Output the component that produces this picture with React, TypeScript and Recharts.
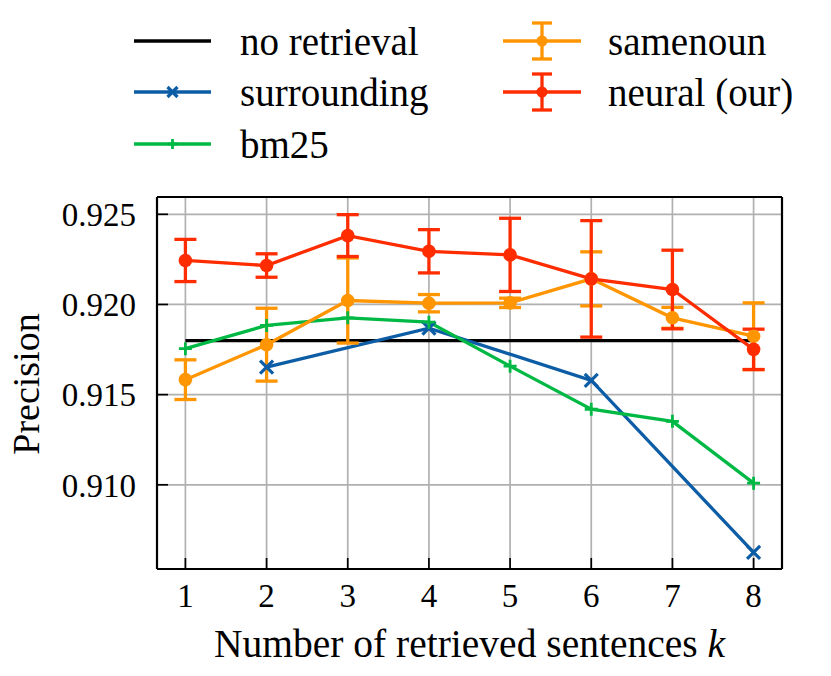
import React from "react";
import {
  LineChart,
  Line,
  XAxis,
  YAxis,
  CartesianGrid,
  ErrorBar,
  Legend,
  Label,
} from "recharts";

// number of retrieved sentences
const kValues = [1, 2, 3, 4, 5, 6, 7, 8];

const noRetrieval = [0.918, 0.918, 0.918, 0.918, 0.918, 0.918, 0.918, 0.918];
const surrounding = [null, 0.91653, null, 0.91869, null, 0.91579, null, 0.90625];
const bm25 = [0.91755, 0.91884, 0.91926, 0.91902, 0.91658, 0.91419, 0.91352, 0.91009];
const samenoun = [0.91583, 0.91777, 0.92022, 0.92007, 0.92009, 0.92142, 0.91926, 0.91824];
const samenounErr = [0.0011, 0.00202, 0.00236, 0.00048, 0.00026, 0.0015, 0.00058, 0.00185];
const neural = [0.92244, 0.92216, 0.92382, 0.92295, 0.92275, 0.92142, 0.92083, 0.91751];
const neuralErr = [0.00117, 0.00065, 0.00116, 0.0012, 0.00203, 0.00323, 0.00218, 0.00112];

const xMajorTicks = [1, 2, 3, 4, 5, 6, 7, 8];
const xMinorTicks = [
  0.8, 1.2, 1.4, 1.6, 1.8, 2.2, 2.4, 2.6, 2.8, 3.2, 3.4, 3.6, 3.8, 4.2, 4.4,
  4.6, 4.8, 5.2, 5.4, 5.6, 5.8, 6.2, 6.4, 6.6, 6.8, 7.2, 7.4, 7.6, 7.8, 8.2,
];
const yMajorTicks = [0.91, 0.915, 0.92, 0.925];
const yMinorTicks = [
  0.906, 0.907, 0.908, 0.909, 0.911, 0.912, 0.913, 0.914, 0.916, 0.917, 0.918,
  0.919, 0.921, 0.922, 0.923, 0.924,
];

const BLACK = "#000000";
const BLUE = "#0C5DA5";
const GREEN = "#00B945";
const ORANGE = "#FF9500";
const RED = "#FF2C00";

const FONT = "Liberation Serif, DejaVu Serif, serif";
const LW = 3.3;

const xDomain = [0.65, 8.35];
const yDomain = [0.90533, 0.92596];

const data = kValues.map((k, i) => ({
  k,
  noRetrieval: noRetrieval[i],
  surrounding: surrounding[i],
  bm25: bm25[i],
  samenoun: samenoun[i],
  samenounErr: samenounErr[i],
  neural: neural[i],
  neuralErr: neuralErr[i],
}));

type Marker = "none" | "x" | "plus" | "circle";

function drawMarker(kind: Marker, cx: number, cy: number, color: string, key?: string, s = 6.5) {
  if (kind === "x") {
    return (
      <path
        key={key}
        d={`M${cx - s},${cy - s}L${cx + s},${cy + s}M${cx - s},${cy + s}L${cx + s},${cy - s}`}
        stroke={color}
        strokeWidth={3.2}
        fill="none"
      />
    );
  }
  if (kind === "plus") {
    return (
      <path
        key={key}
        d={`M${cx - s},${cy}L${cx + s},${cy}M${cx},${cy - s}L${cx},${cy + s}`}
        stroke={color}
        strokeWidth={2.8}
        fill="none"
      />
    );
  }
  if (kind === "circle") {
    return <circle key={key} cx={cx} cy={cy} r={s} fill={color} stroke="none" />;
  }
  return <g key={key} />;
}

const makeDot = (kind: Marker, color: string) => (props: any) => {
  const { cx, cy, index, value } = props;
  const key = `dot-${kind}-${index}`;
  if (value == null || cx == null || cy == null) return <g key={key} />;
  return drawMarker(kind, cx, cy, color, key, kind === "circle" ? 6.8 : 6.5);
};

const legendItems = [
  { name: "no retrieval", color: BLACK, marker: "none" as Marker, err: false, col: 0, row: 0 },
  { name: "surrounding", color: BLUE, marker: "x" as Marker, err: false, col: 0, row: 1 },
  { name: "bm25", color: GREEN, marker: "plus" as Marker, err: false, col: 0, row: 2 },
  { name: "samenoun", color: ORANGE, marker: "circle" as Marker, err: true, col: 1, row: 0 },
  { name: "neural (our)", color: RED, marker: "circle" as Marker, err: true, col: 1, row: 1 },
];

function LegendBox() {
  const cols = [
    { x0: 134, x1: 211, tx: 240 },
    { x0: 503, x1: 581, tx: 608 },
  ];
  const rows = [41, 92, 144];
  return (
    <svg width={831} height={175} style={{ display: "block" }}>
      {legendItems.map((it) => {
        const c = cols[it.col];
        const y = rows[it.row];
        const mid = (c.x0 + c.x1) / 2;
        return (
          <g key={it.name}>
            <line x1={c.x0} y1={y} x2={c.x1} y2={y} stroke={it.color} strokeWidth={LW} />
            {it.err && (
              <g stroke={it.color} strokeWidth={LW}>
                <line x1={mid} y1={y - 18} x2={mid} y2={y + 18} />
                <line x1={mid - 10} y1={y - 18} x2={mid + 10} y2={y - 18} />
                <line x1={mid - 10} y1={y + 18} x2={mid + 10} y2={y + 18} />
              </g>
            )}
            {drawMarker(it.marker, mid, y, it.color, undefined, it.marker === "circle" ? 5.5 : 5)}
            <text x={c.tx} y={y + 14} style={{ fontFamily: FONT, fontSize: 39 }} fill="#000">
              {it.name}
            </text>
          </g>
        );
      })}
    </svg>
  );
}

const tickFont = { fontFamily: FONT, fontSize: 33, fill: "#000" };
const majorTickLine = { stroke: "#000", strokeWidth: 1.7 };
const frameLine = { stroke: "#000", strokeWidth: 2.2 };

export default function App() {
  return (
    <div
      style={{
        position: "absolute",
        left: 0,
        top: 0,
        width: 831,
        height: 676,
        background: "#fff",
        fontFamily: FONT,
      }}
    >
      <LineChart
        width={831}
        height={676}
        data={data}
        margin={{ top: 195, right: 47, bottom: 105, left: 155 }}
      >
        <CartesianGrid xAxisId="x" yAxisId="y" stroke="#b0b0b0" strokeWidth={1.7} />

        <XAxis
          xAxisId="x"
          dataKey="k"
          type="number"
          domain={xDomain}
          allowDataOverflow
          ticks={xMajorTicks}
          orientation="bottom"
          height={1}
          tickSize={-11}
          tickMargin={26}
          tickLine={majorTickLine}
          axisLine={frameLine}
          tick={tickFont}
          interval={0}
        >
          <Label
            content={(props: any) => {
              const vb = props.viewBox || { x: 157, y: 569, width: 625 };
              return (
                <text
                  x={vb.x + vb.width / 2}
                  y={569 + 88}
                  textAnchor="middle"
                  style={{ fontFamily: FONT, fontSize: 39.5 }}
                  fill="#000"
                >
                  Number of retrieved sentences <tspan fontStyle="italic">k</tspan>
                </text>
              );
            }}
          />
        </XAxis>
        <XAxis
          xAxisId="xMinor"
          dataKey="k"
          type="number"
          domain={xDomain}
          allowDataOverflow
          ticks={xMinorTicks}
          orientation="bottom"
          height={1}
          tickSize={-6}
          tickLine={majorTickLine}
          axisLine={false}
          tick={false}
          interval={0}
        />
        <XAxis
          xAxisId="xTop"
          dataKey="k"
          type="number"
          domain={xDomain}
          allowDataOverflow
          ticks={xMajorTicks}
          orientation="top"
          height={1}
          tickSize={-11}
          tickLine={majorTickLine}
          axisLine={frameLine}
          tick={false}
          interval={0}
        />
        <XAxis
          xAxisId="xTopMinor"
          dataKey="k"
          type="number"
          domain={xDomain}
          allowDataOverflow
          ticks={xMinorTicks}
          orientation="top"
          height={1}
          tickSize={-6}
          tickLine={majorTickLine}
          axisLine={false}
          tick={false}
          interval={0}
        />

        <YAxis
          yAxisId="y"
          type="number"
          domain={yDomain}
          allowDataOverflow
          ticks={yMajorTicks}
          orientation="left"
          width={1}
          tickSize={-11}
          tickMargin={32}
          tickLine={majorTickLine}
          axisLine={frameLine}
          tick={tickFont}
          tickFormatter={(v: number) => v.toFixed(3)}
          interval={0}
        >
          <Label
            content={(props: any) => {
              const vb = props.viewBox || { x: 157, y: 197, height: 372 };
              const cx = 39;
              const cy = vb.y + vb.height / 2 + 1;
              return (
                <text
                  transform={`translate(${cx}, ${cy}) rotate(-90)`}
                  textAnchor="middle"
                  style={{ fontFamily: FONT, fontSize: 38 }}
                  fill="#000"
                >
                  Precision
                </text>
              );
            }}
          />
        </YAxis>
        <YAxis
          yAxisId="yMinor"
          type="number"
          domain={yDomain}
          allowDataOverflow
          ticks={yMinorTicks}
          orientation="left"
          width={1}
          tickSize={-6}
          tickLine={majorTickLine}
          axisLine={false}
          tick={false}
          interval={0}
        />
        <YAxis
          yAxisId="yRight"
          type="number"
          domain={yDomain}
          allowDataOverflow
          ticks={yMajorTicks}
          orientation="right"
          width={1}
          tickSize={-11}
          tickLine={majorTickLine}
          axisLine={frameLine}
          tick={false}
          interval={0}
        />
        <YAxis
          yAxisId="yRightMinor"
          type="number"
          domain={yDomain}
          allowDataOverflow
          ticks={yMinorTicks}
          orientation="right"
          width={1}
          tickSize={-6}
          tickLine={majorTickLine}
          axisLine={false}
          tick={false}
          interval={0}
        />

        <Legend
          layout="horizontal"
          verticalAlign="middle"
          align="center"
          wrapperStyle={{ top: 0, left: 0, width: 831, height: 175 }}
          content={() => <LegendBox />}
        />

        <Line
          xAxisId="x"
          yAxisId="y"
          dataKey="noRetrieval"
          name="no retrieval"
          stroke={BLACK}
          strokeWidth={LW}
          dot={false}
          activeDot={false}
          isAnimationActive={false}
        />
        <Line
          xAxisId="x"
          yAxisId="y"
          dataKey="surrounding"
          name="surrounding"
          stroke={BLUE}
          strokeWidth={LW}
          dot={makeDot("x", BLUE)}
          activeDot={false}
          connectNulls
          isAnimationActive={false}
        />
        <Line
          xAxisId="x"
          yAxisId="y"
          dataKey="bm25"
          name="bm25"
          stroke={GREEN}
          strokeWidth={LW}
          dot={makeDot("plus", GREEN)}
          activeDot={false}
          isAnimationActive={false}
        />
        <Line
          xAxisId="x"
          yAxisId="y"
          dataKey="samenoun"
          name="samenoun"
          stroke={ORANGE}
          strokeWidth={LW}
          dot={makeDot("circle", ORANGE)}
          activeDot={false}
          isAnimationActive={false}
        >
          <ErrorBar
            dataKey="samenounErr"
            direction="y"
            width={11}
            stroke={ORANGE}
            strokeWidth={LW}
            isAnimationActive={false}
          />
        </Line>
        <Line
          xAxisId="x"
          yAxisId="y"
          dataKey="neural"
          name="neural (our)"
          stroke={RED}
          strokeWidth={LW}
          dot={makeDot("circle", RED)}
          activeDot={false}
          isAnimationActive={false}
        >
          <ErrorBar
            dataKey="neuralErr"
            direction="y"
            width={11}
            stroke={RED}
            strokeWidth={LW}
            isAnimationActive={false}
          />
        </Line>
      </LineChart>
    </div>
  );
}
